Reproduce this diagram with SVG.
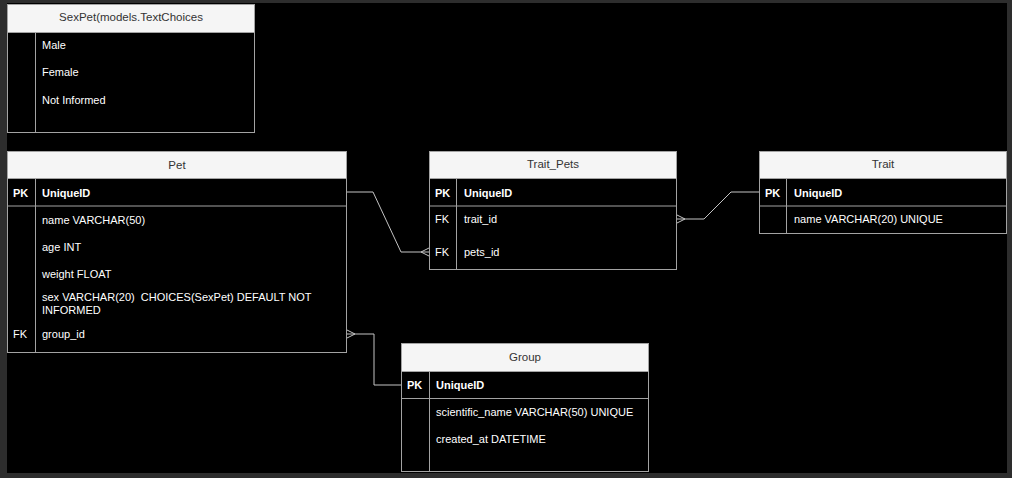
<svg xmlns="http://www.w3.org/2000/svg" width="1012" height="478" viewBox="0 0 1012 478">
<style>
.tb{fill:#000;stroke:#a3a3a3;stroke-width:1}
.hd{fill:#f5f5f5;stroke:#a3a3a3;stroke-width:1}
.ln{stroke:#a3a3a3;stroke-width:1;fill:none}
.ht{font-family:"Liberation Sans",Arial,sans-serif;font-size:11.5px;fill:#333;text-anchor:middle}
.ft{font-family:"Liberation Sans",Arial,sans-serif;font-size:11px;fill:#fff;white-space:pre}
.b{font-weight:bold}
.cn{stroke:#c4c4c4;stroke-width:1;fill:none}
</style>
<rect x="0" y="0" width="1012" height="478" fill="#2d2d2d"/>
<rect x="7" y="3" width="1000" height="470" fill="#000"/>

<g id="connectors">
<path class="cn" d="M347,192 H373 L401,252 H429"/>
<path class="cn" d="M421,252 L429,248 M421,252 L429,256"/>
<path class="cn" d="M677,219 H704 L731,192 H759"/>
<path class="cn" d="M685,219 L677,215 M685,219 L677,223"/>
<path class="cn" d="M347,334 H374 V385 H401"/>
<path class="cn" d="M355,334 L347,330 M355,334 L347,338"/>
</g>

<g id="sexpet">
<rect class="tb" x="7.5" y="4.5" width="247" height="128"/>
<rect class="hd" x="7.5" y="4.5" width="247" height="28"/>
<line class="ln" x1="35.5" y1="32.5" x2="35.5" y2="132.5"/>
<text class="ht" x="131" y="21">SexPet(models.TextChoices</text>
<text class="ft" x="42" y="49">Male</text>
<text class="ft" x="42" y="76">Female</text>
<text class="ft" x="42" y="104">Not Informed</text>
</g>

<g id="pet">
<rect class="tb" x="7.5" y="151.5" width="339" height="201"/>
<rect class="hd" x="7.5" y="151.5" width="339" height="27"/>
<line class="ln" x1="7.5" y1="206" x2="346.5" y2="206"/>
<line class="ln" x1="35.5" y1="178.5" x2="35.5" y2="352.5"/>
<text class="ht" x="177" y="169">Pet</text>
<text class="ft b" x="13" y="197">PK</text>
<text class="ft b" x="42" y="197">UniqueID</text>
<text class="ft" x="42" y="224">name VARCHAR(50)</text>
<text class="ft" x="42" y="251">age INT</text>
<text class="ft" x="42" y="278">weight FLOAT</text>
<text class="ft" x="42" y="301" xml:space="preserve">sex VARCHAR(20)  CHOICES(SexPet) DEFAULT NOT</text>
<text class="ft" x="42" y="314">INFORMED</text>
<text class="ft" x="13" y="338">FK</text>
<text class="ft" x="42" y="338">group_id</text>
</g>

<g id="trait_pets">
<rect class="tb" x="429.5" y="151.5" width="247" height="118"/>
<rect class="hd" x="429.5" y="151.5" width="247" height="27"/>
<line class="ln" x1="429.5" y1="206" x2="676.5" y2="206"/>
<line class="ln" x1="456.5" y1="178.5" x2="456.5" y2="269.5"/>
<text class="ht" x="553" y="168">Trait_Pets</text>
<text class="ft b" x="435" y="197">PK</text>
<text class="ft b" x="464" y="197">UniqueID</text>
<text class="ft" x="435" y="223">FK</text>
<text class="ft" x="464" y="223">trait_id</text>
<text class="ft" x="435" y="256">FK</text>
<text class="ft" x="464" y="256">pets_id</text>
</g>

<g id="trait">
<rect class="tb" x="759.5" y="151.5" width="247" height="82"/>
<rect class="hd" x="759.5" y="151.5" width="247" height="27"/>
<line class="ln" x1="759.5" y1="206" x2="1006.5" y2="206"/>
<line class="ln" x1="786.5" y1="178.5" x2="786.5" y2="233.5"/>
<text class="ht" x="883" y="168">Trait</text>
<text class="ft b" x="765" y="197">PK</text>
<text class="ft b" x="794" y="197">UniqueID</text>
<text class="ft" x="794" y="223">name VARCHAR(20) UNIQUE</text>
</g>

<g id="group">
<rect class="tb" x="401.5" y="343.5" width="247" height="128"/>
<rect class="hd" x="401.5" y="343.5" width="247" height="28"/>
<line class="ln" x1="401.5" y1="398.5" x2="648.5" y2="398.5"/>
<line class="ln" x1="429.5" y1="371.5" x2="429.5" y2="471.5"/>
<text class="ht" x="525" y="361">Group</text>
<text class="ft b" x="407" y="389">PK</text>
<text class="ft b" x="436" y="389">UniqueID</text>
<text class="ft" x="436" y="416">scientific_name VARCHAR(50) UNIQUE</text>
<text class="ft" x="436" y="443">created_at DATETIME</text>
</g>
</svg>
